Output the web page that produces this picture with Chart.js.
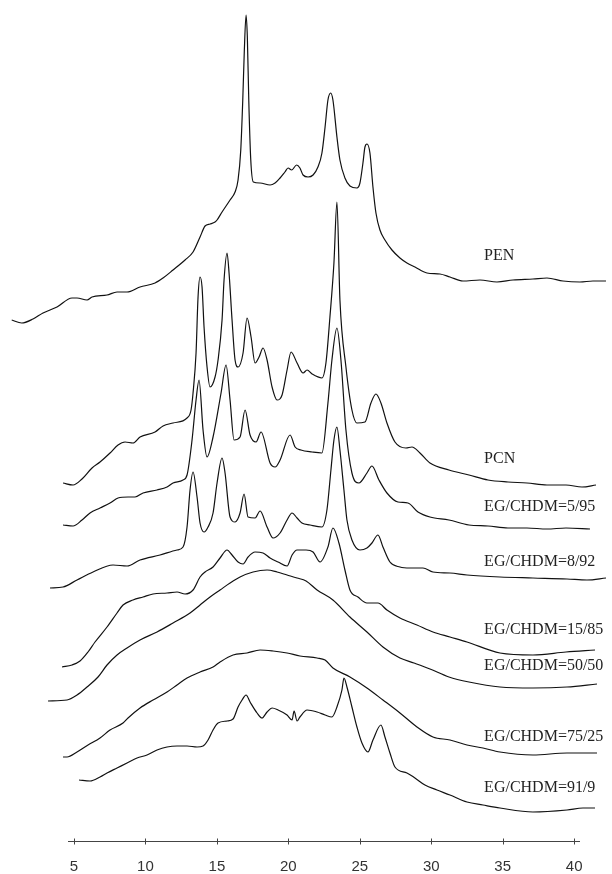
<!DOCTYPE html>
<html>
<head>
<meta charset="utf-8">
<script src="https://cdn.jsdelivr.net/npm/chart.js"></script>
<style>
  html, body { margin: 0; padding: 0; background: #fff; }
  #wrap { width: 612px; height: 874px; position: relative; }
</style>
</head>
<body>
<div id="wrap"><canvas id="xrd"></canvas></div>
<script>
// 2-theta (deg) vs intensity (arbitrary, curves stacked by offset)
const tickValues = [5, 10, 15, 20, 25, 30, 35, 40];
const axisSpan = [4.58, 40.41];
const sampleNames = ['PEN', 'PCN', 'EG/CHDM=5/95', 'EG/CHDM=8/92', 'EG/CHDM=15/85',
  'EG/CHDM=50/50', 'EG/CHDM=75/25', 'EG/CHDM=91/9'];

const pen = [[0.64,521],[1.34,518],[2.13,522],[2.83,528],[3.81,534],[4.86,543],[5.21,543],[5.91,541],
  [6.26,544],[7.31,546],[8.01,549],[8.71,549],[9.62,554],[10.67,558],[11.23,563],[11.93,571],[12.77,581],
  [13.33,589],[13.82,604],[14.17,615],[14.52,617],[14.87,619],[15.01,621],[15.36,629],[15.92,641],
  [16.27,649],[16.48,661],[16.67,691],[16.81,741],[16.92,791],[17.04,826],[17.13,804],[17.23,741],
  [17.37,681],[17.55,659],[18.02,658],[18.72,656],[19.07,658],[19.42,663],[19.76,669],[19.98,673],
  [20.23,671],[20.58,676],[20.81,673],[21.03,666],[21.38,664],[21.73,666],[22.07,674],[22.35,688],
  [22.57,714],[22.77,741],[22.96,748],[23.12,741],[23.40,704],[23.61,681],[23.96,663],[24.31,655],
  [24.80,653],[25.01,658],[25.22,678],[25.36,694],[25.50,697],[25.71,688],[25.92,654],[26.13,628],
  [26.41,611],[26.76,601],[27.25,591],[27.81,583],[28.30,578],[28.86,574],[29.70,568],[30.61,567],
  [31.31,564],[32.22,560],[33.41,561],[34.60,559],[35.72,561],[37.12,562],[38.10,563],[39.22,560],
  [40.41,559],[41.32,560],[42.23,560]];

const pcn = [[4.23,358],[4.93,356],[5.56,362],[6.26,373],[6.82,379],[7.52,388],[8.08,396],[8.57,399],
  [9.13,398],[9.62,404],[10.67,409],[11.23,415],[11.93,418],[12.91,423],[13.19,431],[13.33,448],
  [13.54,488],[13.68,544],[13.82,564],[13.96,554],[14.10,514],[14.31,474],[14.52,454],[14.87,464],
  [15.08,481],[15.36,521],[15.50,561],[15.71,588],[15.85,568],[16.06,521],[16.27,481],[16.48,474],
  [16.83,488],[17.11,523],[17.39,504],[17.67,478],[17.95,484],[18.23,493],[18.51,481],[18.86,454],
  [19.21,441],[19.56,446],[19.91,471],[20.19,489],[20.61,478],[21.03,468],[21.31,471],[21.66,467],
  [22.35,463],[22.63,478],[22.91,524],[23.19,578],[23.40,639],[23.61,541],[24.03,474],[24.45,431],
  [24.80,418],[25.36,419],[25.78,438],[26.13,447],[26.48,438],[26.90,418],[27.46,399],[28.23,393],
  [28.65,394],[29.21,388],[29.91,378],[31.24,371],[32.64,366],[33.97,361],[35.37,359],[36.70,358],
  [38.10,356],[39.43,356],[40.55,354],[41.53,356]];

const eg5 = [[4.23,316],[4.93,315],[5.56,321],[6.12,328],[6.82,333],[7.52,338],[8.08,343],[8.78,344],
  [9.27,344],[9.83,348],[10.81,351],[11.51,354],[11.93,358],[12.63,361],[12.91,366],[13.26,401],
  [13.54,441],[13.75,461],[14.03,411],[14.31,384],[14.73,404],[15.29,448],[15.64,476],[15.92,441],
  [16.20,401],[16.62,404],[16.97,431],[17.32,406],[17.74,399],[18.09,409],[18.72,378],[19.07,374],
  [19.42,381],[20.12,406],[20.47,394],[20.88,391],[21.66,389],[22.35,388],[22.77,438],[23.05,481],
  [23.40,513],[23.68,481],[24.03,411],[24.45,368],[24.94,358],[25.50,368],[25.85,375],[26.34,361],
  [26.90,348],[27.67,339],[28.37,338],[29.07,329],[29.91,324],[31.24,321],[32.64,316],[33.97,315],
  [35.37,313],[36.70,313],[38.10,312],[39.43,313],[41.11,312]];

const eg8 = [[3.32,253],[4.23,254],[5.21,261],[6.33,269],[7.73,276],[8.71,275],[9.62,281],[11.02,286],
  [12.21,291],[12.63,294],[12.91,314],[13.12,351],[13.33,369],[13.61,344],[13.82,318],[14.10,309],
  [14.38,314],[14.73,328],[15.01,358],[15.36,383],[15.57,368],[15.92,324],[16.27,319],[16.62,328],
  [16.90,347],[17.18,324],[17.67,323],[18.02,330],[18.51,314],[18.93,303],[19.42,308],[19.91,321],
  [20.26,328],[20.61,323],[20.95,318],[21.52,316],[22.35,314],[22.70,331],[22.98,371],[23.19,401],
  [23.40,414],[23.61,391],[23.89,351],[24.10,321],[24.45,301],[25.01,291],[25.50,293],[25.85,298],
  [26.27,306],[26.62,294],[27.11,279],[27.81,274],[28.51,273],[29.42,273],[30.12,269],[31.31,268],
  [32.50,266],[34.81,264],[37.12,263],[39.50,262],[40.90,261],[42.23,263]];

const eg15 = [[4.16,174],[4.86,176],[5.42,180],[5.98,189],[6.47,199],[7.31,214],[8.01,228],[8.43,236],
  [9.13,241],[9.83,244],[10.53,247],[11.51,248],[12.21,249],[12.77,247],[13.33,251],[13.82,264],
  [14.17,269],[14.73,274],[15.22,283],[15.71,291],[16.06,286],[16.48,279],[16.83,277],[17.18,284],
  [17.67,289],[18.23,288],[18.72,283],[19.28,279],[19.91,275],[20.26,286],[20.61,291],[21.24,291],
  [21.73,289],[22.22,279],[22.77,294],[23.12,313],[23.54,298],[23.96,271],[24.31,251],[24.87,244],
  [25.50,238],[26.27,238],[26.90,231],[27.81,223],[29.00,216],[30.12,209],[31.31,204],[32.50,199],
  [34.81,188],[37.12,186],[39.43,189],[41.46,191]];

const eg50 = [[3.18,140],[4.51,141],[5.21,146],[5.91,154],[6.68,164],[7.31,176],[8.01,186],[8.71,193],
  [9.62,201],[10.81,209],[11.93,218],[13.12,228],[13.82,236],[14.52,244],[15.22,251],[15.92,258],
  [16.62,264],[17.53,269],[18.51,271],[19.21,269],[19.91,266],[20.61,263],[21.24,260],[22.01,251],
  [23.12,241],[24.31,224],[25.50,209],[26.62,194],[27.81,183],[28.79,178],[29.91,172],[31.24,164],
  [32.64,159],[34.81,154],[37.12,153],[39.50,154],[41.60,157]];

const eg75 = [[4.23,84],[4.51,84],[5.21,89],[5.98,96],[6.82,103],[7.52,111],[8.43,118],[8.78,123],
  [9.62,133],[10.53,141],[11.51,149],[12.21,156],[12.91,163],[13.82,169],[14.73,174],[15.22,179],
  [16.13,186],[17.11,188],[18.02,191],[18.93,190],[19.91,188],[20.81,185],[22.01,183],[22.57,181],
  [23.12,173],[24.31,164],[25.50,153],[26.62,141],[27.81,128],[29.00,114],[30.12,104],[31.31,101],
  [32.50,96],[33.62,93],[34.81,89],[37.12,86],[39.50,88],[41.60,88]];

const eg91 = [[5.35,61],[6.12,60],[6.82,64],[7.31,68],[8.01,73],[8.71,78],[9.41,83],[10.11,86],
  [10.81,91],[11.51,94],[12.21,95],[12.91,95],[13.61,94],[14.03,95],[14.38,101],[14.73,111],
  [15.08,118],[15.71,120],[16.13,122],[16.48,134],[16.76,141],[17.04,146],[17.32,139],[17.81,128],
  [18.16,123],[18.51,129],[18.86,133],[19.28,131],[19.91,126],[20.26,121],[20.40,130],[20.61,120],
  [20.81,124],[21.31,131],[22.01,129],[22.57,126],[23.05,124],[23.40,134],[23.75,151],[23.89,163],
  [24.10,154],[24.45,134],[24.80,114],[25.15,98],[25.57,89],[25.92,101],[26.48,116],[26.76,104],
  [27.11,88],[27.46,74],[28.30,68],[28.86,63],[29.56,56],[30.40,51],[31.31,46],[32.50,39],
  [33.62,36],[34.81,33],[37.12,29],[39.50,31],[40.62,33],[41.46,33]];

const seriesData = [pen, pcn, eg5, eg8, eg15, eg50, eg75, eg91];

// where each name sits (data units), to the right of its curve
const labelX = 33.7;
const labelY = [585, 382, 334, 279, 211, 175, 104, 53];

const decorations = {
  id: 'decorations',
  afterDatasetsDraw(chart) {
    const { ctx, scales: { x, y } } = chart;
    ctx.save();
    ctx.fillStyle = '#222';
    ctx.font = '16px "Liberation Serif", "Times New Roman", serif';
    ctx.textBaseline = 'middle';
    ctx.textAlign = 'left';
    sampleNames.forEach((name, i) => {
      ctx.fillText(name, x.getPixelForValue(labelX), y.getPixelForValue(labelY[i]));
    });
    // 2-theta axis line, shorter than the plotted traces
    const y0 = Math.round(y.getPixelForValue(0)) + 0.5;
    ctx.strokeStyle = '#444';
    ctx.lineWidth = 1;
    ctx.beginPath();
    ctx.moveTo(x.getPixelForValue(axisSpan[0]), y0);
    ctx.lineTo(x.getPixelForValue(axisSpan[1]), y0);
    ctx.stroke();
    tickValues.forEach(v => {
      const px = Math.round(x.getPixelForValue(v)) + 0.5;
      ctx.beginPath();
      ctx.moveTo(px, y0 - 3);
      ctx.lineTo(px, y0 + 3);
      ctx.stroke();
    });
    ctx.restore();
  }
};

new Chart(document.getElementById('xrd'), {
  type: 'line',
  data: {
    datasets: seriesData.map((pts, i) => ({
      label: sampleNames[i],
      data: pts.map(p => ({ x: p[0], y: p[1] })),
      borderColor: '#111',
      borderWidth: 1.2,
      pointRadius: 0,
      cubicInterpolationMode: 'monotone',
      fill: false,
      clip: false
    }))
  },
  options: {
    responsive: true,
    maintainAspectRatio: false,
    animation: false,
    layout: { padding: 0 },
    plugins: { legend: { display: false }, tooltip: { enabled: false } },
    scales: {
      x: {
        type: 'linear',
        position: { y: 0 },
        min: -0.18,
        max: 42.65,
        afterBuildTicks: s => { s.ticks = tickValues.map(v => ({ value: v })); },
        grid: { display: false },
        border: { display: false },
        ticks: {
          color: '#333',
          padding: 9,
          maxRotation: 0,
          font: { family: '"Liberation Sans", Arial, sans-serif', size: 15 }
        }
      },
      y: {
        display: false,
        min: -33,
        max: 841
      }
    }
  },
  plugins: [decorations]
});
</script>
</body>
</html>
